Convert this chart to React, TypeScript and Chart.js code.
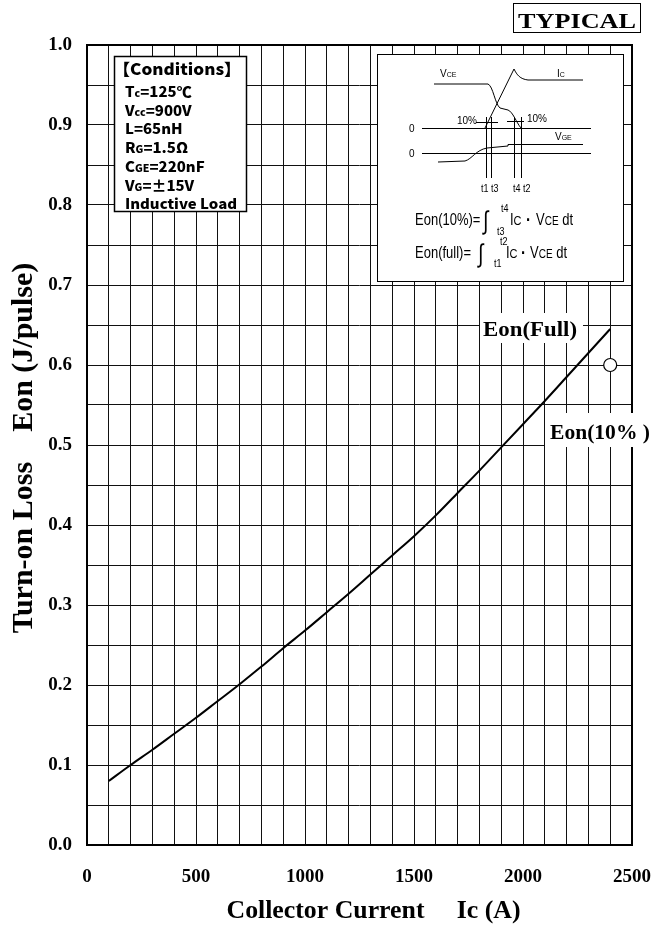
import React, { useEffect, useRef } from 'react';
import { Chart, registerables } from 'chart.js';

Chart.register(...registerables);

// ---------------- data ----------------
const collectorCurrentA = [100, 200, 300, 400, 500, 600, 700, 800, 900, 1000, 1100, 1200, 1300, 1400, 1500, 1600, 1700, 1800, 1900, 2000, 2100, 2200, 2300, 2400];
const eonFullJ = [0.080, 0.100, 0.119, 0.139, 0.159, 0.180, 0.201, 0.223, 0.246, 0.268, 0.291, 0.314, 0.338, 0.362, 0.386, 0.412, 0.440, 0.468, 0.497, 0.526, 0.555, 0.585, 0.615, 0.645];
const eon10CurrentA = [2400];
const eon10J = [0.6];

const xTickValues = [0, 500, 1000, 1500, 2000, 2500];
const xTickLabels = ['0', '500', '1000', '1500', '2000', '2500'];
const yTickValues = [0, 0.1, 0.2, 0.3, 0.4, 0.5, 0.6, 0.7, 0.8, 0.9, 1.0];
const yTickLabels = ['0.0', '0.1', '0.2', '0.3', '0.4', '0.5', '0.6', '0.7', '0.8', '0.9', '1.0'];

const xAxisTitle = 'Collector Current     Ic (A)';
const yAxisTitle = 'Turn-on Loss    Eon (J/pulse)';
const badgeText = 'TYPICAL';
const labelFull = 'Eon(Full)';
const label10 = 'Eon(10% )';

const conditionsTitle = '【Conditions】';
// [main, subscript, rest]
const conditionsLines: [string, string, string][] = [
  ['T', 'c', '=125℃'],
  ['V', 'cc', '=900V'],
  ['L', '', '=65nH'],
  ['R', 'G', '=1.5Ω'],
  ['C', 'GE', '=220nF'],
  ['V', 'G', '=±15V'],
  ['Inductive Load', '', ''],
];

const SERIF = '"Liberation Serif", "Times New Roman", serif';
const SANS = '"Liberation Sans", Arial, sans-serif';
const GOTHIC = '"Noto Sans CJK JP", "Noto Sans", sans-serif';

type Run = { t: string; font: string; dy?: number };

function drawRuns(ctx: CanvasRenderingContext2D, runs: Run[], x: number, y: number, sx = 1, sy = 1) {
  ctx.save();
  ctx.translate(x, y);
  ctx.scale(sx, sy);
  ctx.textAlign = 'left';
  ctx.textBaseline = 'alphabetic';
  ctx.fillStyle = '#000';
  let cx = 0;
  for (const r of runs) {
    ctx.font = r.font;
    ctx.fillText(r.t, cx, r.dy || 0);
    cx += ctx.measureText(r.t).width;
  }
  ctx.restore();
}

function fitText(ctx: CanvasRenderingContext2D, s: string, x: number, y: number, font: string, targetW: number, align: CanvasTextAlign = 'left') {
  ctx.save();
  ctx.font = font;
  const w = ctx.measureText(s).width;
  const sx = targetW / w;
  ctx.translate(x, y);
  ctx.scale(sx, 1);
  ctx.textAlign = align;
  ctx.textBaseline = 'alphabetic';
  ctx.fillStyle = '#000';
  ctx.fillText(s, 0, 0);
  ctx.restore();
}

function polyline(ctx: CanvasRenderingContext2D, pts: number[][]) {
  ctx.beginPath();
  pts.forEach((p, i) => (i === 0 ? ctx.moveTo(p[0], p[1]) : ctx.lineTo(p[0], p[1])));
  ctx.stroke();
}

const decorPlugin = {
  id: 'decor',
  beforeDatasetsDraw(chart: any) {
    const { ctx, chartArea: a } = chart;
    ctx.save();
    ctx.strokeStyle = '#000';
    ctx.lineWidth = 2;
    ctx.strokeRect(a.left, a.top, a.right - a.left, a.bottom - a.top);
    ctx.restore();
  },
  afterDraw(chart: any) {
    const ctx: CanvasRenderingContext2D = chart.ctx;
    const a = chart.chartArea;
    ctx.save();

    // ---------- Conditions box ----------
    const cb = { x: 114, y: 56, w: 132, h: 155 };
    ctx.fillStyle = '#fff';
    ctx.fillRect(cb.x, cb.y, cb.w, cb.h);
    ctx.strokeStyle = '#000';
    ctx.lineWidth = 1.5;
    ctx.strokeRect(cb.x + 0.5, cb.y + 0.5, cb.w, cb.h);
    const gw = '900';
    ctx.font = `${gw} 14px ${GOTHIC}`;
    const csx = 112 / ctx.measureText('Inductive Load').width;
    drawRuns(ctx, [{ t: conditionsTitle, font: `${gw} 16px ${GOTHIC}` }], cb.x - 1, cb.y + 19, csx);
    conditionsLines.forEach((ln, i) => {
      const runs: Run[] = [{ t: ln[0], font: `${gw} 14px ${GOTHIC}` }];
      if (ln[1]) runs.push({ t: ln[1], font: `${gw} 10px ${GOTHIC}`, dy: 0 });
      if (ln[2]) runs.push({ t: ln[2], font: `${gw} 14px ${GOTHIC}` });
      drawRuns(ctx, runs, cb.x + 11, cb.y + 41 + i * 18.7, csx);
    });

    // ---------- Inset waveform box ----------
    const ib = { x: 377, y: 54, w: 246, h: 227 };
    ctx.fillStyle = '#fff';
    ctx.fillRect(ib.x, ib.y, ib.w, ib.h);
    ctx.strokeStyle = '#000';
    ctx.lineWidth = 1;
    ctx.strokeRect(ib.x + 0.5, ib.y + 0.5, ib.w, ib.h);

    ctx.lineWidth = 1;
    ctx.strokeStyle = '#000';
    // zero lines
    polyline(ctx, [[422, 128.5], [591, 128.5]]);
    polyline(ctx, [[422, 153.5], [591, 153.5]]);
    // VCE
    ctx.beginPath();
    ctx.moveTo(434, 84);
    ctx.lineTo(488, 84);
    ctx.bezierCurveTo(493, 86, 495, 104, 500, 108);
    ctx.lineTo(508, 110);
    ctx.bezierCurveTo(513, 112, 516, 122, 521, 128);
    ctx.stroke();
    // IC
    ctx.beginPath();
    ctx.moveTo(485, 128);
    ctx.lineTo(514, 69);
    ctx.bezierCurveTo(517, 75, 520, 79, 528, 80);
    ctx.lineTo(583, 80);
    ctx.stroke();
    // VGE
    ctx.beginPath();
    ctx.moveTo(438, 162);
    ctx.lineTo(465, 161);
    ctx.bezierCurveTo(472, 159, 476, 150, 487, 148);
    ctx.lineTo(508, 146);
    ctx.lineTo(508, 144.5);
    ctx.lineTo(583, 144.5);
    ctx.stroke();
    // vertical time markers
    [486.5, 491.5, 514.5, 521.5].forEach((vx) => polyline(ctx, [[vx, 117], [vx, 178]]));
    // 10% marks
    polyline(ctx, [[476, 122.5], [498, 122.5]]);
    polyline(ctx, [[507, 121.5], [524, 121.5]]);

    const f10 = `10px ${SANS}`;
    const f7 = `7px ${SANS}`;
    drawRuns(ctx, [{ t: 'V', font: f10 }, { t: 'CE', font: f7 }], 440, 77);
    drawRuns(ctx, [{ t: 'I', font: f10 }, { t: 'C', font: f7 }], 557, 77);
    drawRuns(ctx, [{ t: '10%', font: f10 }], 457, 124);
    drawRuns(ctx, [{ t: '10%', font: f10 }], 527, 122);
    drawRuns(ctx, [{ t: '0', font: f10 }], 409, 132);
    drawRuns(ctx, [{ t: '0', font: f10 }], 409, 157);
    drawRuns(ctx, [{ t: 'V', font: f10 }, { t: 'GE', font: f7 }], 555, 140);
    drawRuns(ctx, [{ t: 't1 t3', font: `9px ${SANS}` }], 481, 192, 1, 1.15);
    drawRuns(ctx, [{ t: 't4 t2', font: `9px ${SANS}` }], 513, 192, 1, 1.15);

    const ff = `13px ${SANS}`;
    const fs = `10px ${SANS}`;
    const fi = `19px ${SANS}`;
    const ft = `9px ${SANS}`;
    // formula 1
    drawRuns(ctx, [{ t: 'Eon(10%)=', font: ff }], 415, 225, 1, 1.2);
    drawRuns(ctx, [{ t: '∫', font: fi }], 483, 229, 1, 1.35);
    drawRuns(ctx, [{ t: 't4', font: ft }], 501, 212, 1, 1.15);
    drawRuns(ctx, [{ t: 't3', font: ft }], 497, 235, 1, 1.15);
    drawRuns(ctx, [{ t: 'I', font: ff }, { t: 'C', font: `11px ${SANS}` }], 510, 225, 1, 1.2);
    drawRuns(ctx, [{ t: '·', font: `bold 15px ${SANS}` }], 526, 226, 1, 1.2);
    drawRuns(ctx, [{ t: 'V', font: ff }, { t: 'CE', font: fs }, { t: ' dt', font: ff }], 536, 225, 1, 1.2);
    // formula 2
    drawRuns(ctx, [{ t: 'Eon(full)=', font: ff }], 415, 258, 1, 1.2);
    drawRuns(ctx, [{ t: '∫', font: fi }], 478, 262, 1, 1.35);
    drawRuns(ctx, [{ t: 't2', font: ft }], 500, 245, 1, 1.15);
    drawRuns(ctx, [{ t: 't1', font: ft }], 494, 267, 1, 1.15);
    drawRuns(ctx, [{ t: 'I', font: ff }, { t: 'C', font: `11px ${SANS}` }], 506, 258, 1, 1.2);
    drawRuns(ctx, [{ t: '·', font: `bold 15px ${SANS}` }], 521, 259, 1, 1.2);
    drawRuns(ctx, [{ t: 'V', font: ff }, { t: 'CE', font: fs }, { t: ' dt', font: ff }], 530, 258, 1, 1.2);

    // ---------- TYPICAL badge ----------
    ctx.fillStyle = '#fff';
    ctx.fillRect(513, 3, 128, 30);
    ctx.strokeStyle = '#000';
    ctx.lineWidth = 1;
    ctx.strokeRect(513.5, 3.5, 127, 29);
    fitText(ctx, badgeText, 577, 28, `bold 22px ${SERIF}`, 118, 'center');

    // ---------- curve labels ----------
    ctx.fillStyle = '#fff';
    ctx.fillRect(480, 313, 103, 30);
    fitText(ctx, labelFull, 483, 336, `bold 21px ${SERIF}`, 94);
    ctx.fillStyle = '#fff';
    ctx.fillRect(545, 413, 109, 34);
    fitText(ctx, label10, 550, 439, `bold 21px ${SERIF}`, 100);

    // ---------- axis titles ----------
    fitText(ctx, xAxisTitle, (a.left + a.right) / 2 + 14, 918, `bold 25px ${SERIF}`, 294, 'center');
    ctx.save();
    ctx.translate(32, (a.top + a.bottom) / 2 + 3);
    ctx.rotate(-Math.PI / 2);
    ctx.font = `bold 30px ${SERIF}`;
    ctx.textAlign = 'center';
    ctx.textBaseline = 'alphabetic';
    ctx.fillStyle = '#000';
    ctx.fillText(yAxisTitle, 0, 0);
    ctx.restore();

    ctx.restore();
  },
};

function labelFor(values: number[], labels: string[], v: number): string {
  for (let i = 0; i < values.length; i++) {
    if (Math.abs(values[i] - v) < 1e-6) return labels[i];
  }
  return '';
}

export default function App() {
  const ref = useRef<HTMLCanvasElement>(null);
  useEffect(() => {
    const canvas = ref.current;
    if (!canvas) return;
    const tickFont = { family: SERIF, size: 19, weight: 'bold' as const };
    const chart = new Chart(canvas, {
      type: 'line',
      data: {
        datasets: [
          {
            label: 'Eon(Full)',
            data: collectorCurrentA.map((x, i) => ({ x, y: eonFullJ[i] })),
            borderColor: '#000',
            borderWidth: 2,
            pointRadius: 0,
            cubicInterpolationMode: 'monotone',
            fill: false,
          },
          {
            label: 'Eon(10%)',
            data: eon10CurrentA.map((x, i) => ({ x, y: eon10J[i] })),
            showLine: false,
            pointRadius: 6.5,
            pointStyle: 'circle',
            pointBackgroundColor: '#fff',
            pointBorderColor: '#000',
            pointBorderWidth: 1.2,
          },
        ],
      },
      options: {
        responsive: false,
        animation: false,
        layout: { padding: { top: 45, right: 22, left: 0, bottom: 0 } },
        plugins: { legend: { display: false }, tooltip: { enabled: false } },
        scales: {
          x: {
            type: 'linear',
            min: 0,
            max: 2500,
            afterFit: (s: any) => {
              s.height = 81;
              s.paddingLeft = 0;
              s.paddingRight = 0;
            },
            ticks: {
              stepSize: 100,
              autoSkip: false,
              maxRotation: 0,
              minRotation: 0,
              padding: 21,
              color: '#000',
              font: tickFont,
              callback: (v: any) => labelFor(xTickValues, xTickLabels, Number(v)),
            },
            grid: { color: '#111', lineWidth: 1, drawTicks: false },
            border: { display: false },
          },
          y: {
            type: 'linear',
            min: 0,
            max: 1,
            afterFit: (s: any) => {
              s.width = 87;
              s.paddingTop = 0;
              s.paddingBottom = 0;
            },
            ticks: {
              stepSize: 0.05,
              autoSkip: false,
              padding: 15,
              color: '#000',
              font: tickFont,
              callback: (v: any) => labelFor(yTickValues, yTickLabels, Number(v)),
            },
            grid: { color: '#111', lineWidth: 1, drawTicks: false },
            border: { display: false },
          },
        },
      },
      plugins: [decorPlugin],
    } as any);
    return () => chart.destroy();
  }, []);
  return (
    <div style={{ position: 'absolute', left: 0, top: 0, width: 654, height: 926, background: '#fff' }}>
      <canvas ref={ref} width={654} height={926} style={{ display: 'block', width: 654, height: 926 }} />
    </div>
  );
}
